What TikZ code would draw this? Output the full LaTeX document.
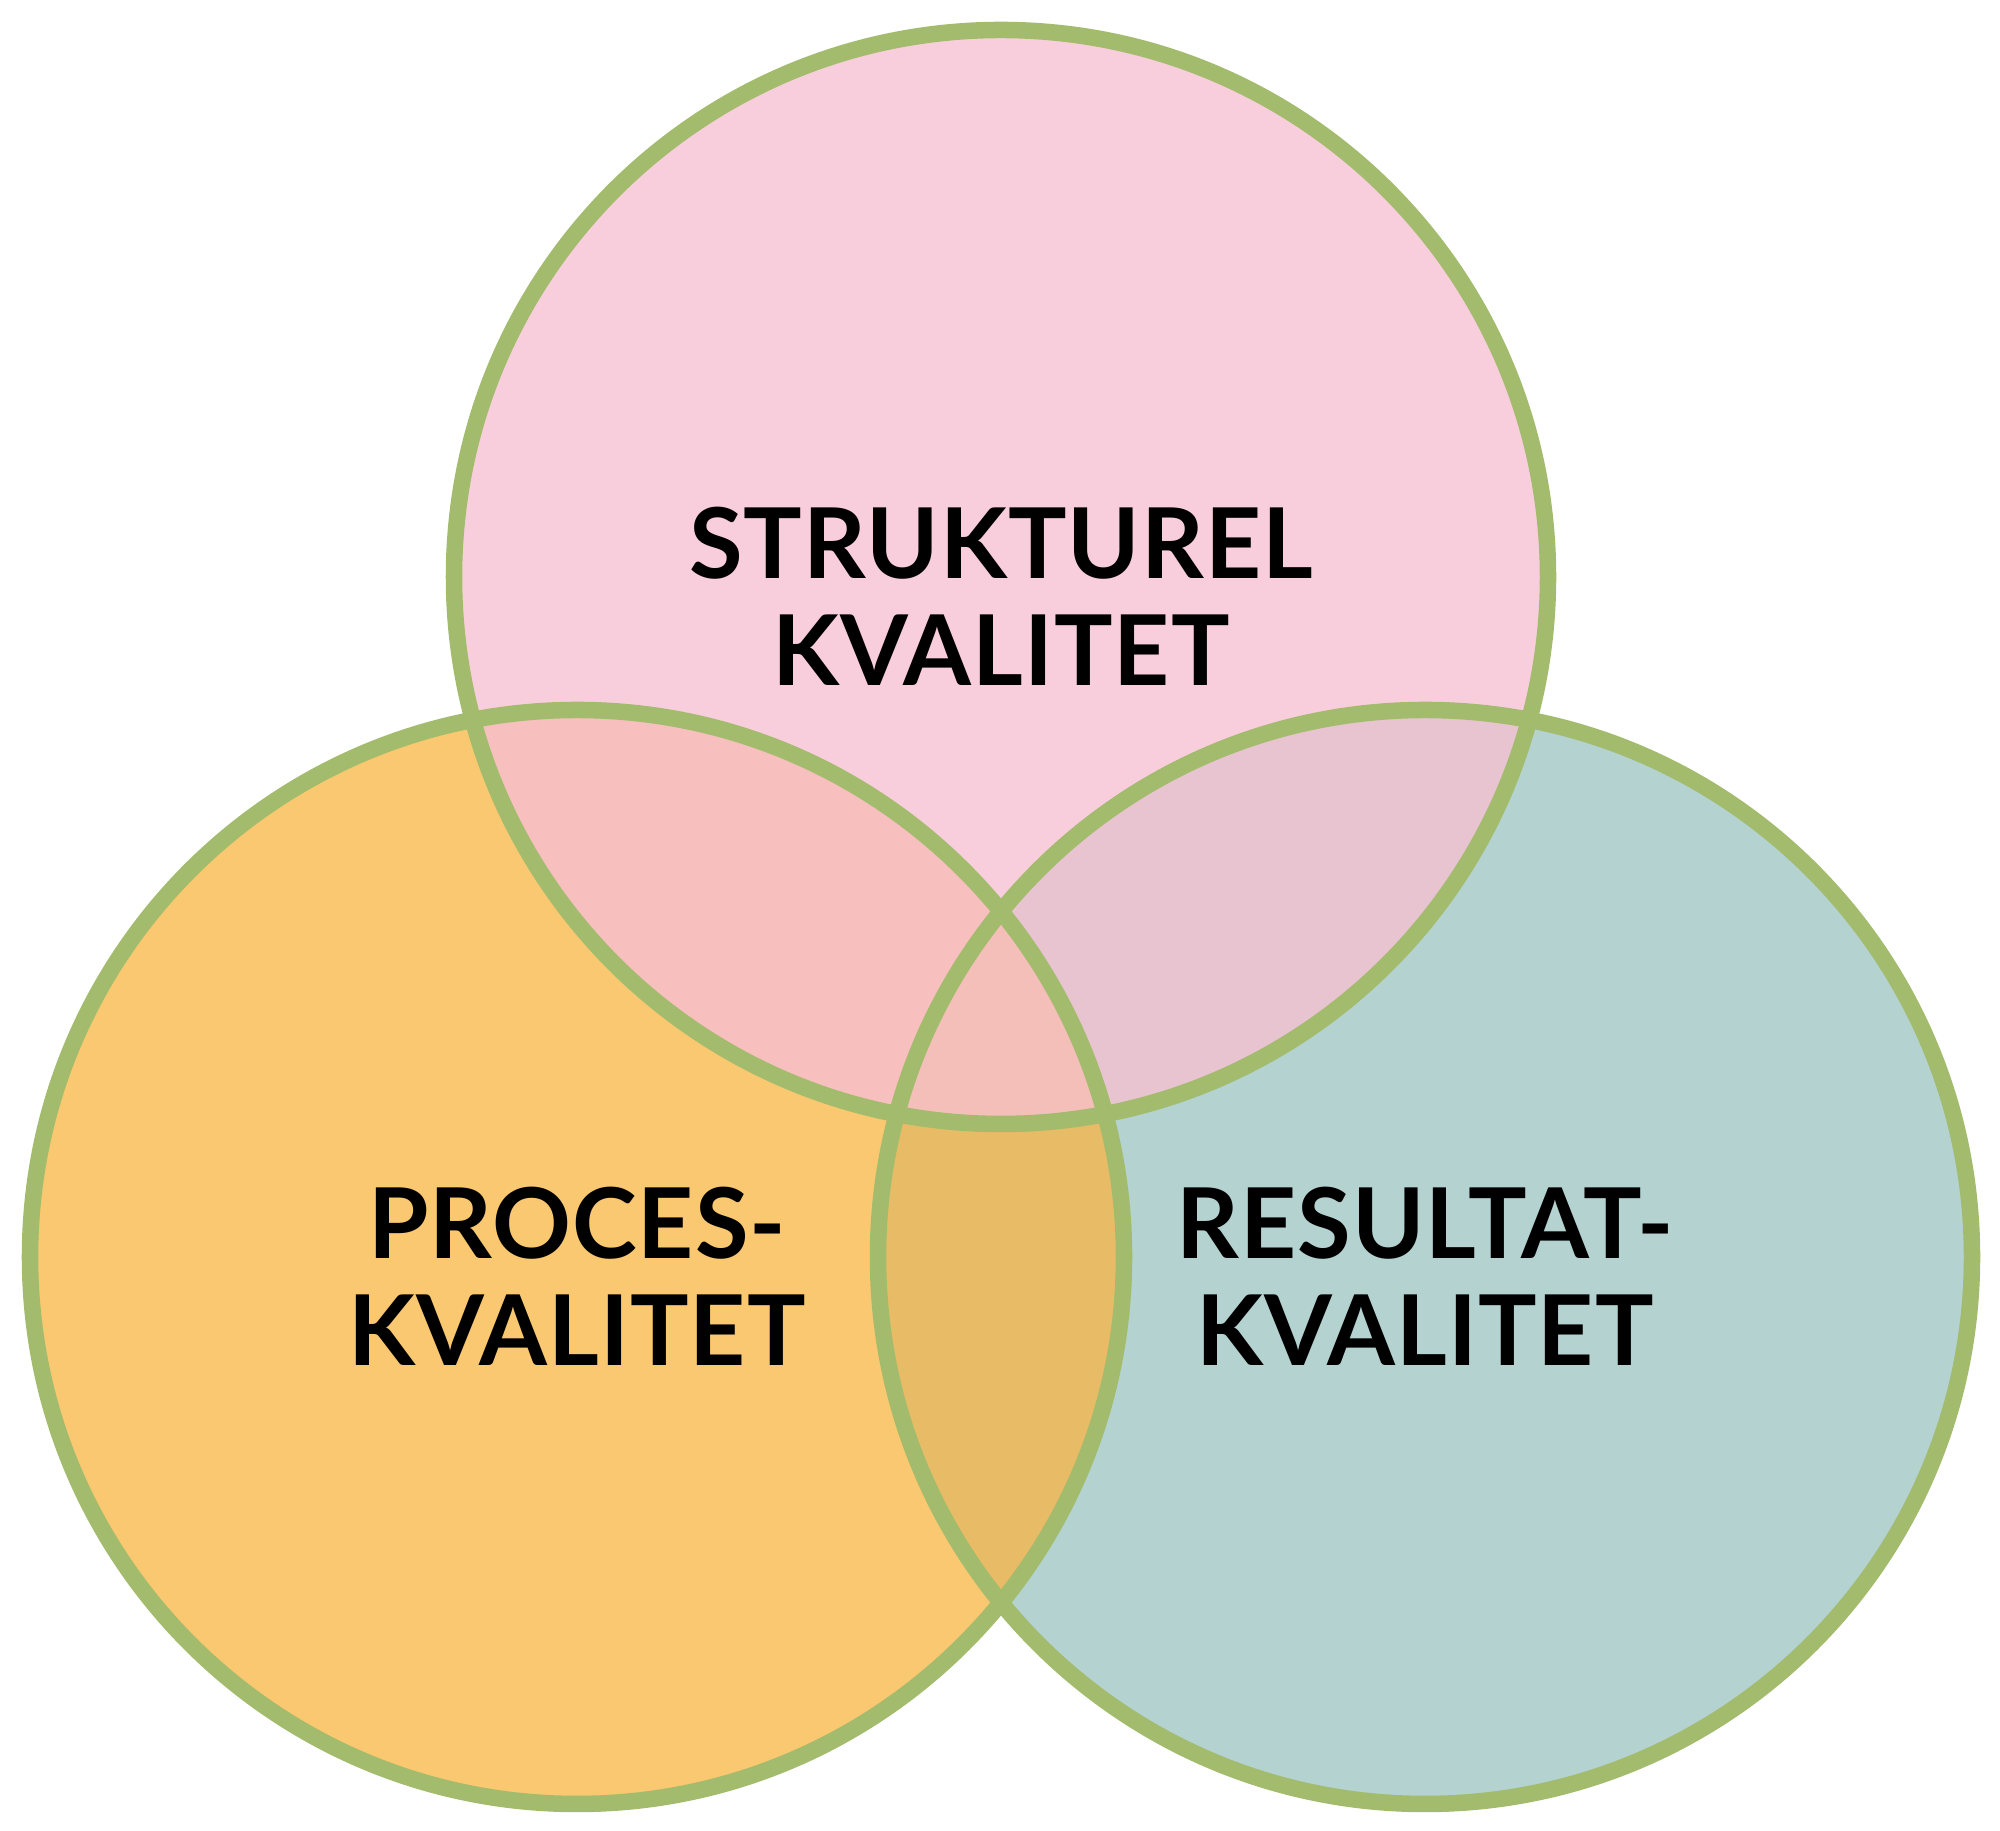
\documentclass[tikz,border=0pt]{standalone}
\usepackage{fontspec}
\newfontfamily\labelfont[LetterSpace=1.0]{Lato}
\usepackage{tikz}
\usetikzlibrary{
	calc,
	positioning,
}
\definecolor{ringgreen}{RGB}{162,187,108}
\definecolor{strukturfill}{RGB}{249,206,220}
\definecolor{procesfill}{RGB}{249,200,112}
\definecolor{resultatfill}{RGB}{180,210,208}
\definecolor{spfill}{RGB}{247,191,190}
\definecolor{srfill}{RGB}{231,196,207}
\definecolor{prfill}{RGB}{232,187,102}
\definecolor{sprfill}{RGB}{244,190,185}
\tikzset{ring/.style={draw=ringgreen,line width=4.7pt,}}
\tikzset{quality label/.style={align=center,inner sep=0pt,yshift=-0.19cm,font=\labelfont\bfseries\fontsize{27.8}{30.4}\selectfont,}}

\begin{document}
\begin{tikzpicture}

\def\r{5.47}

\useasboundingbox (0,0) rectangle (20,18.31);

\coordinate (S) at (10.01,12.54);
\coordinate (P) at (5.77,5.74);
\coordinate (R) at (14.25,5.74);

% circles
\foreach \c/\f in {S/strukturfill,P/procesfill,R/resultatfill}{
	\fill[\f] (\c) circle (\r);
}

% overlaps
\foreach \a/\b/\f in {S/P/spfill,S/R/srfill,P/R/prfill}{
	\begin{scope}
		\clip (\a) circle (\r);
		\fill[\f] (\b) circle (\r);
	\end{scope}
}
\begin{scope}
	\clip (S) circle (\r);
	\clip (P) circle (\r);
	\fill[sprfill] (R) circle (\r);
\end{scope}

\foreach \c in {S,P,R}{
	\draw[ring] (\c) circle (\r);
}

\node[quality label] (struktur) at (S) {STRUKTUREL\\KVALITET};
\node[quality label] (proces) at (P) {PROCES-\\KVALITET};
\node[quality label] (resultat) at (R) {RESULTAT-\\KVALITET};

\end{tikzpicture}
\end{document}
